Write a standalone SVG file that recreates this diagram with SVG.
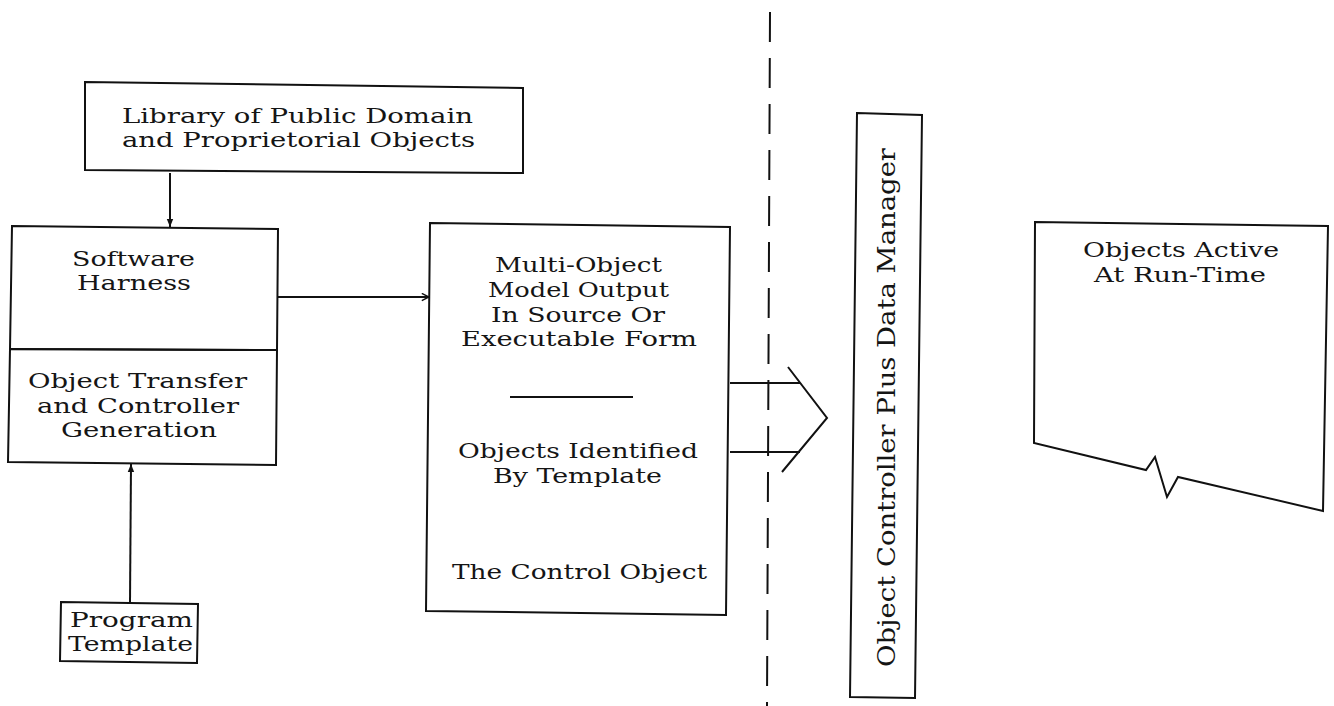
<svg xmlns="http://www.w3.org/2000/svg" width="1334" height="706" viewBox="0 0 1334 706">
  <defs>
    <style>
      .box { fill: none; stroke: #111; stroke-width: 2; stroke-linejoin: miter; }
      .line { fill: none; stroke: #111; stroke-width: 2; }
      .lbl { font-family: "DejaVu Serif", "Liberation Serif", serif; font-size: 20.5px; fill: #151515; }
      .vlbl { font-family: "DejaVu Serif", "Liberation Serif", serif; font-size: 25px; fill: #151515; }
    </style>
    <marker id="headFill" viewBox="0 0 10 10" refX="10" refY="5" markerWidth="9" markerHeight="8" orient="auto" markerUnits="userSpaceOnUse">
      <path d="M0,1 L10,5 L0,9 Z" fill="#111"/>
    </marker>
    <marker id="headOpen" viewBox="0 0 10 10" refX="10" refY="5" markerWidth="9" markerHeight="9" orient="auto" markerUnits="userSpaceOnUse">
      <path d="M2,1 L10,5 L2,9" fill="none" stroke="#111" stroke-width="1.6"/>
    </marker>
  </defs>
  <rect width="1334" height="706" fill="#fff"/>

  <!-- design-time / run-time boundary -->
  <g id="boundary">
    <line x1="770" y1="12" x2="767" y2="706" class="line" stroke-dasharray="30 16"/>
  </g>

  <g id="library">
    <path class="box" d="M85,82 L523,88 L523,173 L85,170 Z"/>
    <text class="lbl" x="122" y="123" textLength="351" lengthAdjust="spacingAndGlyphs">Library of Public Domain</text>
    <text class="lbl" x="122" y="147" textLength="353" lengthAdjust="spacingAndGlyphs">and Proprietorial Objects</text>
  </g>

  <g id="harness">
    <path class="box" d="M12,226 L278,229 L277,350 L10,349 Z"/>
    <text class="lbl" x="72" y="266" textLength="123" lengthAdjust="spacingAndGlyphs">Software</text>
    <text class="lbl" x="77" y="290" textLength="114" lengthAdjust="spacingAndGlyphs">Harness</text>
  </g>

  <g id="transfer">
    <path class="box" d="M10,349 L277,350 L276,465 L8,462 Z"/>
    <text class="lbl" x="28" y="388" textLength="219" lengthAdjust="spacingAndGlyphs">Object Transfer</text>
    <text class="lbl" x="37" y="413" textLength="202" lengthAdjust="spacingAndGlyphs">and Controller</text>
    <text class="lbl" x="61" y="437" textLength="156" lengthAdjust="spacingAndGlyphs">Generation</text>
  </g>

  <g id="template">
    <path class="box" d="M61,602 L198,604 L197,663 L60,661 Z"/>
    <text class="lbl" x="70" y="627" textLength="123" lengthAdjust="spacingAndGlyphs">Program</text>
    <text class="lbl" x="68" y="651" textLength="125" lengthAdjust="spacingAndGlyphs">Template</text>
  </g>

  <g id="model-output">
    <path class="box" d="M430,223 L730,227 L726,615 L426,611 Z"/>
    <text class="lbl" x="495" y="272" textLength="167" lengthAdjust="spacingAndGlyphs">Multi-Object</text>
    <text class="lbl" x="488" y="297" textLength="181" lengthAdjust="spacingAndGlyphs">Model Output</text>
    <text class="lbl" x="491" y="322" textLength="174" lengthAdjust="spacingAndGlyphs">In Source Or</text>
    <text class="lbl" x="461" y="346" textLength="236" lengthAdjust="spacingAndGlyphs">Executable Form</text>
    <line x1="510" y1="397" x2="633" y2="397" class="line"/>
    <text class="lbl" x="458" y="458" textLength="240" lengthAdjust="spacingAndGlyphs">Objects Identified</text>
    <text class="lbl" x="493" y="483" textLength="169" lengthAdjust="spacingAndGlyphs">By Template</text>
    <text class="lbl" x="452" y="579" textLength="255" lengthAdjust="spacingAndGlyphs">The Control Object</text>
  </g>

  <g id="controller">
    <path class="box" d="M857,113 L922,115 L915,698 L850,697 Z"/>
    <text class="vlbl" transform="translate(895,667) rotate(-90)" x="0" y="0" textLength="519" lengthAdjust="spacingAndGlyphs">Object Controller Plus Data Manager</text>
  </g>

  <g id="runtime">
    <path class="box" d="M1035,222 L1328,226 L1323,511 L1178,477 L1167,497 L1155,457 L1146,470 L1034,443 Z"/>
    <text class="lbl" x="1083" y="257" textLength="196" lengthAdjust="spacingAndGlyphs">Objects Active</text>
    <text class="lbl" x="1094" y="282" textLength="172" lengthAdjust="spacingAndGlyphs">At Run-Time</text>
  </g>

  <g id="connectors">
    <line x1="170" y1="173" x2="170" y2="227" class="line" marker-end="url(#headFill)"/>
    <line x1="130" y1="603" x2="131" y2="464" class="line" marker-end="url(#headFill)"/>
    <line x1="278" y1="297" x2="429" y2="297" class="line" marker-end="url(#headOpen)"/>
    <!-- broad transfer arrow into the controller -->
    <path class="line" d="M730,383 L800,383 M730,452 L800,452 M788,367 L827,418 L782,472"/>
  </g>
</svg>
